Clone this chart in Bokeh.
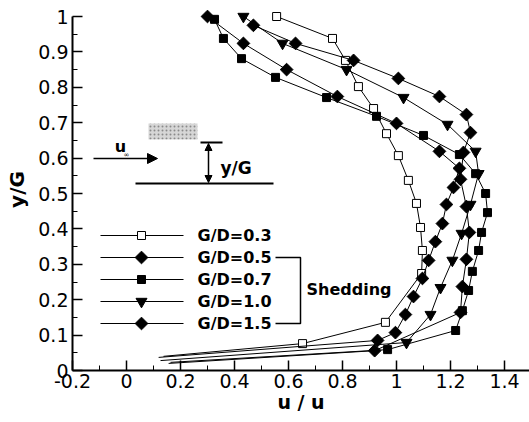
import math
from bokeh.plotting import figure
from bokeh.models import (Range1d, FixedTicker, Label, Arrow, NormalHead, CustomJSTickFormatter)
from bokeh.embed import file_html
from bokeh.resources import INLINE

# ---------------- data ----------------
gd03_x = [0.556, 0.763, 0.811, 0.859, 0.915, 0.963, 1.007, 1.044, 1.074, 1.089, 1.096, 1.093, 0.959, 0.652, 0.137]
gd03_y = [1.000, 0.938, 0.876, 0.802, 0.740, 0.669, 0.607, 0.537, 0.472, 0.404, 0.339, 0.274, 0.136, 0.076, 0.040]

gd05_x = [0.300, 0.433, 0.593, 0.781, 1.000, 1.159, 1.233, 1.211, 1.185, 1.170, 1.144, 1.119, 1.096, 1.063, 1.033, 0.996, 0.930, 0.119]
gd05_y = [1.000, 0.924, 0.850, 0.774, 0.698, 0.619, 0.571, 0.517, 0.469, 0.415, 0.364, 0.311, 0.260, 0.209, 0.158, 0.107, 0.085, 0.037]

gd07_x = [0.326, 0.359, 0.426, 0.552, 0.741, 0.926, 1.100, 1.233, 1.293, 1.330, 1.337, 1.315, 1.304, 1.281, 1.267, 1.244, 1.219, 0.967, 0.163]
gd07_y = [0.992, 0.938, 0.881, 0.828, 0.771, 0.718, 0.664, 0.610, 0.556, 0.500, 0.446, 0.390, 0.339, 0.280, 0.226, 0.169, 0.113, 0.059, 0.023]

gd10_x = [0.433, 0.578, 0.815, 1.026, 1.189, 1.293, 1.304, 1.274, 1.241, 1.207, 1.163, 1.126, 1.037, 0.126]
gd10_y = [1.000, 0.924, 0.850, 0.771, 0.695, 0.619, 0.556, 0.469, 0.387, 0.311, 0.234, 0.158, 0.079, 0.028]

gd15_x = [0.470, 0.626, 0.841, 1.007, 1.159, 1.259, 1.274, 1.248, 1.237, 1.259, 1.270, 1.259, 1.244, 1.237, 0.919, 0.156]
gd15_y = [0.975, 0.924, 0.876, 0.825, 0.774, 0.723, 0.672, 0.616, 0.540, 0.463, 0.390, 0.314, 0.237, 0.164, 0.056, 0.020]

series_labels = ["G/D=0.3", "G/D=0.5", "G/D=0.7", "G/D=1.0", "G/D=1.5"]

x_ticks = [-0.2, 0.0, 0.2, 0.4, 0.6, 0.8, 1.0, 1.2, 1.4]
x_tick_labels = ["-0.2", "0", "0.2", "0.4", "0.6", "0.8", "1", "1.2", "1.4"]
x_minor = [-0.1, 0.1, 0.3, 0.5, 0.7, 0.9, 1.1, 1.3]
y_ticks = [0.0, 0.1, 0.2, 0.3, 0.4, 0.5, 0.6, 0.7, 0.8, 0.9, 1.0]
y_tick_labels = ["0", "0.1", "0.2", "0.3", "0.4", "0.5", "0.6", "0.7", "0.8", "0.9", "1"]
y_minor = [0.05, 0.15, 0.25, 0.35, 0.45, 0.55, 0.65, 0.75, 0.85, 0.95]

# ---------------- layout ----------------
FONT = "DejaVu Sans"
W, H = 529, 422
FL, FT, FB = 72, 8, 370          # frame left / top / bottom in page px
XU, YU = 270.0, 354.0            # px per data unit
x0, x1 = -0.2, -0.2 + (W - FL) / XU
y0, y1 = 0.0, (FB - FT) / YU


def X(px):
    return -0.2 + (px - FL) / XU


def Y(py):
    return (FB - py) / YU


p = figure(width=W, height=H, output_backend="svg", toolbar_location=None,
           x_range=Range1d(x0, x1), y_range=Range1d(y0, y1),
           min_border_left=FL, min_border_right=0, min_border_top=FT,
           min_border_bottom=H - FB)
p.outline_line_color = None
p.grid.visible = False
p.background_fill_color = "white"
p.border_fill_color = "white"

fmt_code = """
for (let i = 0; i < tv.length; i++) {
  if (Math.abs(tv[i] - tick) < 1e-9) return tl[i];
}
return '';
"""
p.xaxis.ticker = FixedTicker(ticks=x_ticks, minor_ticks=x_minor)
p.xaxis.formatter = CustomJSTickFormatter(args=dict(tv=x_ticks, tl=x_tick_labels), code=fmt_code)
p.yaxis.ticker = FixedTicker(ticks=y_ticks, minor_ticks=y_minor)
p.yaxis.formatter = CustomJSTickFormatter(args=dict(tv=y_ticks, tl=y_tick_labels), code=fmt_code)
p.yaxis.bounds = (0, 1)

for ax in (p.xaxis[0], p.yaxis[0]):
    ax.axis_line_width = 2
    ax.axis_line_color = "black"
    ax.major_tick_in = 10
    ax.major_tick_out = 0
    ax.minor_tick_in = 5
    ax.minor_tick_out = 0
    ax.major_tick_line_width = 1.5
    ax.minor_tick_line_width = 1
    ax.major_tick_line_color = "black"
    ax.minor_tick_line_color = "black"
    ax.major_label_text_font = FONT
    ax.major_label_text_font_size = "19px"
    ax.major_label_text_color = "black"
    ax.axis_label_text_font = FONT
    ax.axis_label_text_font_style = "bold"
    ax.axis_label_text_color = "black"

p.xaxis.major_label_standoff = 3
p.xaxis.axis_label = "u / u"
p.xaxis.axis_label_text_font_size = "19px"
p.xaxis.axis_label_standoff = 0
p.yaxis.major_label_standoff = 4
p.yaxis.axis_label = "y/G"
p.yaxis.axis_label_text_font_size = "20px"
p.yaxis.axis_label_standoff = 6

# ---------------- series ----------------
styles = [
    dict(marker="square", size=8, fill_color="white", angle=0.0),
    dict(marker="square", size=9, fill_color="black", angle=math.pi / 4),
    dict(marker="square", size=8, fill_color="black", angle=0.0),
    dict(marker="inverted_triangle", size=11, fill_color="black", angle=0.0),
    dict(marker="square", size=9, fill_color="black", angle=math.pi / 4),
]
all_x = [gd03_x, gd05_x, gd07_x, gd10_x, gd15_x]
all_y = [gd03_y, gd05_y, gd07_y, gd10_y, gd15_y]

for xs, ys, st in zip(all_x, all_y, styles):
    p.line(xs, ys, line_color="black", line_width=1)
    p.scatter(xs[:-1], ys[:-1], marker=st["marker"], size=st["size"],
              fill_color=st["fill_color"], line_color="black", line_width=1,
              angle=st["angle"])

# ---------------- legend (drawn as in the original figure) ----------------
LEG_TOP, LEG_STEP = 235, 22
for i, (st, lab) in enumerate(zip(styles, series_labels)):
    ry = Y(LEG_TOP + LEG_STEP * i)
    p.line([X(100), X(183)], [ry, ry], line_color="black", line_width=1)
    p.scatter([X(141)], [ry], marker=st["marker"], size=st["size"],
              fill_color=st["fill_color"], line_color="black", line_width=1,
              angle=st["angle"])
    p.add_layout(Label(x=X(197), y=ry, text=lab, text_font=FONT, text_font_size="16px",
                       text_font_style="bold", text_align="left", text_baseline="middle",
                       text_color="black"))

# bracket grouping the shedding cases
p.line([X(275), X(300), X(300), X(275)], [Y(257), Y(257), Y(323), Y(323)],
       line_color="black", line_width=1.5)
p.add_layout(Label(x=X(306), y=Y(289), text="Shedding", text_font=FONT, text_font_size="16px",
                   text_font_style="bold", text_align="left", text_baseline="middle",
                   text_color="black"))

# ---------------- inset sketch ----------------
p.quad(left=X(148), right=X(197), top=Y(123), bottom=Y(139),
       fill_color="#d6d6d6", line_color=None,
       hatch_pattern="dot", hatch_color="#8a8a8a", hatch_scale=4)
p.add_layout(Arrow(end=NormalHead(size=10, fill_color="black", line_color="black"),
                   x_start=X(93), y_start=Y(158), x_end=X(157), y_end=Y(158),
                   line_width=1.5, line_color="black"))
p.add_layout(Arrow(start=NormalHead(size=7, fill_color="black", line_color="black"),
                   end=NormalHead(size=7, fill_color="black", line_color="black"),
                   x_start=X(208), y_start=Y(143), x_end=X(208), y_end=Y(182),
                   line_width=1.5, line_color="black"))
p.line([X(200), X(222)], [Y(142), Y(142)], line_color="black", line_width=2)
p.line([X(135), X(273)], [Y(183), Y(183)], line_color="black", line_width=2)

p.add_layout(Label(x=X(120), y=Y(146), text="u", text_font=FONT, text_font_size="16px",
                   text_font_style="bold", text_align="center", text_baseline="middle",
                   text_color="black"))
p.add_layout(Label(x=X(126), y=Y(154), text="∞", text_font=FONT, text_font_size="7px",
                   text_align="center", text_baseline="middle", text_color="black"))
p.add_layout(Label(x=X(220), y=Y(167), text="y/G", text_font=FONT, text_font_size="17px",
                   text_font_style="bold", text_align="left", text_baseline="middle",
                   text_color="black"))

# subscript of the x-axis title
p.add_layout(Label(x=X(328), y=Y(414), text="∞", text_font=FONT, text_font_size="8px",
                   text_align="center", text_baseline="middle", text_color="black"))

open("out.html", "w").write(file_html(p, INLINE))
